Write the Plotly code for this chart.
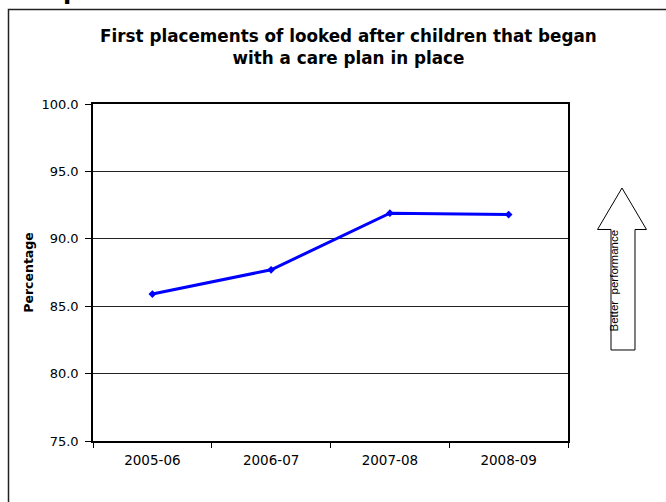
import plotly.graph_objects as go

# Data
years = ["2005-06", "2006-07", "2007-08", "2008-09"]
pct_with_plan = [85.9, 87.7, 91.9, 91.8]
y_ticks = [75, 80, 85, 90, 95, 100]
y_tick_labels = ["75.0", "80.0", "85.0", "90.0", "95.0", "100.0"]

W, H = 666, 502
ML, MR, MT, MB = 93, 98, 104, 61
PW, PH = W - ML - MR, H - MT - MB


def px(x):
    return (x - ML) / PW


def py(y):
    return (H - MB - y) / PH


fig = go.Figure()
fig.add_trace(go.Scatter(
    x=years, y=pct_with_plan, mode="lines+markers",
    line=dict(color="#0000FF", width=3),
    marker=dict(symbol="diamond", size=6, color="#0000FF"),
    showlegend=False, cliponaxis=False,
))

# outer chart frame (runs off the right and bottom edge)
fig.add_shape(type="rect", xref="paper", yref="paper",
              x0=px(8.5), x1=px(720), y0=py(560), y1=py(9.5),
              line=dict(color="#222222", width=1.5), layer="below")

# "Better performance" block arrow
pts = [(611, 350), (611, 229.5), (597.5, 229.5), (622, 188), (646.5, 229.5),
       (635, 229.5), (635, 350)]
path = "M " + " L ".join(f"{px(a):.5f},{py(b):.5f}" for a, b in pts) + " Z"
fig.add_shape(type="path", xref="paper", yref="paper", path=path,
              line=dict(color="#000000", width=1), fillcolor="white")
fig.add_annotation(xref="paper", yref="paper", x=px(621.5), y=py(281),
                   text="Better  performance", textangle=-90, showarrow=False,
                   font=dict(family="Liberation Sans", size=11.5, color="#000000"))

# heading above the chart frame
fig.add_annotation(xref="paper", yref="paper", x=px(61), y=py(7),
                   xanchor="left", yanchor="bottom", text="<b>p</b>",
                   showarrow=False,
                   font=dict(family="DejaVu Sans", size=24, color="#000000"))

fig.update_layout(
    width=W, height=H,
    margin=dict(l=ML, r=MR, t=MT, b=MB),
    paper_bgcolor="white", plot_bgcolor="white",
    font=dict(family="DejaVu Sans", color="#000000", size=13),
    title=dict(
        text="<b>First placements of looked after children that began<br>with a care plan in place</b>",
        x=px(341.5), xanchor="center", y=1 - 42 / H, yanchor="middle",
        font=dict(family="DejaVu Sans", size=16.8, color="#000000"),
    ),
    xaxis=dict(
        type="category", showgrid=False, showline=True, mirror=True,
        linecolor="#000000", linewidth=1.5, ticks="outside", ticklen=5,
        tickson="boundaries", tickcolor="#000000",
        tickfont=dict(size=13.5), range=[-0.5, 3.5], ticklabelstandoff=6,
    ),
    yaxis=dict(
        range=[75, 100], tickvals=y_ticks, ticktext=y_tick_labels,
        showgrid=True, gridcolor="#222222", gridwidth=1,
        showline=True, mirror=True, linecolor="#000000", linewidth=1.5,
        ticks="outside", ticklen=6, tickcolor="#000000",
        tickfont=dict(size=13), zeroline=False, ticklabelstandoff=4,
        title=dict(text="<b>Percentage</b>", font=dict(size=12.5), standoff=5),
    ),
)

fig.write_html("out.html")
